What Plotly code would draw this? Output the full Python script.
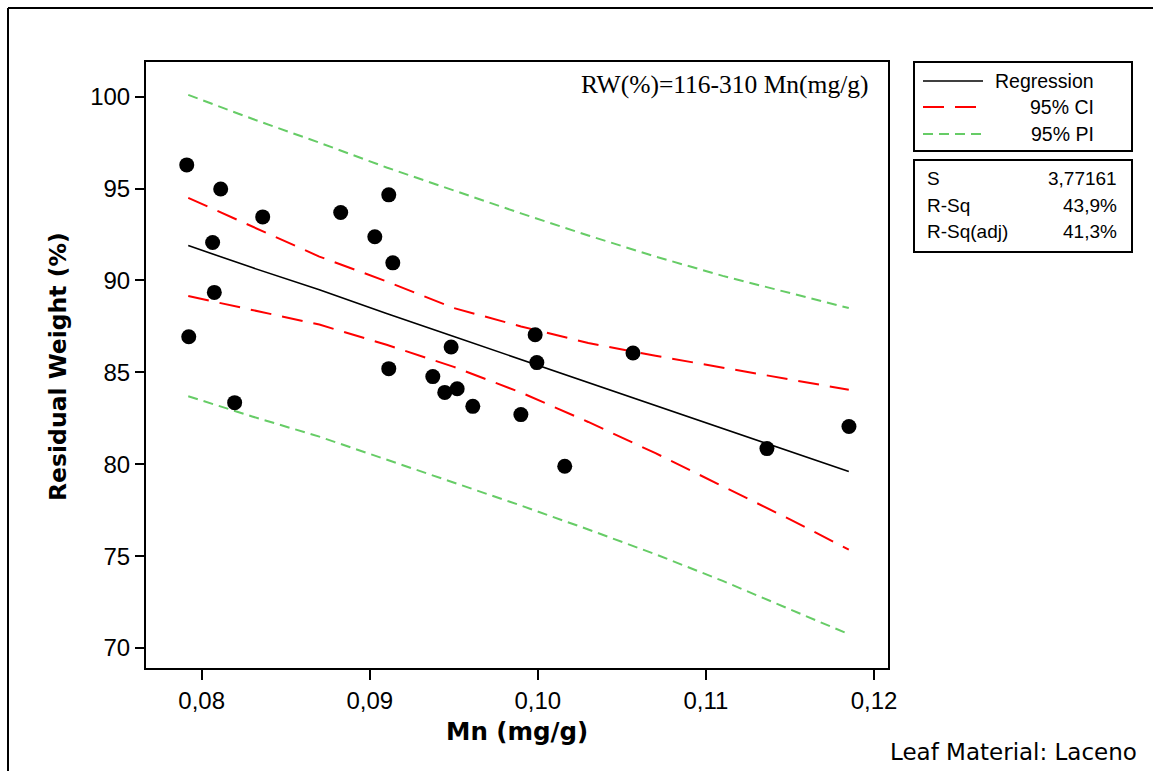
import plotly.graph_objects as go

# ---- data ----
mn = [0.07911, 0.07923, 0.08113, 0.08065, 0.08075, 0.08196, 0.08363, 0.08827,
      0.09030, 0.09113, 0.09137, 0.09113, 0.09375, 0.09446, 0.09484, 0.09520,
      0.09613, 0.09899, 0.09984, 0.09994, 0.10160, 0.10566, 0.11363, 0.11851]
rw = [96.29, 86.94, 94.98, 92.07, 89.35, 83.35, 93.46, 93.70,
      92.38, 94.66, 90.96, 85.20, 84.77, 83.91, 86.38, 84.11,
      83.15, 82.70, 87.05, 85.53, 79.89, 86.05, 80.85, 82.05]

grid_x = [0.0792, 0.083, 0.087, 0.091, 0.095, 0.099, 0.103, 0.107, 0.111, 0.115, 0.1185]
fit    = [91.9, 90.7, 89.5, 88.2, 86.95, 85.7, 84.45, 83.2, 81.95, 80.7, 79.6]
ci_up  = [94.5, 92.95, 91.3, 89.95, 88.5, 87.5, 86.6, 85.9, 85.25, 84.6, 84.05]
ci_lo  = [89.15, 88.4, 87.6, 86.5, 85.3, 83.9, 82.3, 80.6, 78.8, 77.0, 75.35]
pi_up  = [100.1, 98.8, 97.5, 96.15, 94.9, 93.65, 92.45, 91.3, 90.25, 89.3, 88.5]
pi_lo  = [83.7, 82.6, 81.5, 80.25, 79.0, 77.75, 76.45, 75.1, 73.65, 72.1, 70.75]

x_ticks = [0.08, 0.09, 0.10, 0.11, 0.12]
y_ticks = [70, 75, 80, 85, 90, 95, 100]

legend_labels = ["Regression", "95% CI", "95% PI"]
stat_names = ["S", "R-Sq", "R-Sq(adj)"]
stat_values = ["3,77161", "43,9%", "41,3%"]
equation = "RW(%)=116-310 Mn(mg/g)"
x_title = "Mn (mg/g)"
y_title = "Residual Weight (%)"
footer = "Leaf Material: Laceno"

# ---- styling / layout ----
W, H = 1153, 771
L, R, T, B = 146, 888, 62, 668
RED = "#ff0000"
GREEN = "#66cc66"
SANS = "Liberation Sans, Arial, sans-serif"
BOLD = "DejaVu Sans, Verdana, sans-serif"


def px(x):
    return (x - L) / (R - L)


def py(y):
    return (B - y) / (B - T)


fig = go.Figure()
fig.add_trace(go.Scatter(x=grid_x, y=pi_up, mode="lines",
                         line=dict(color=GREEN, width=2, dash="10px,6px"), hoverinfo="skip"))
fig.add_trace(go.Scatter(x=grid_x, y=pi_lo, mode="lines",
                         line=dict(color=GREEN, width=2, dash="10px,6px"), hoverinfo="skip"))
fig.add_trace(go.Scatter(x=grid_x, y=ci_up, mode="lines",
                         line=dict(color=RED, width=2, dash="21px,11px"), hoverinfo="skip"))
fig.add_trace(go.Scatter(x=grid_x, y=ci_lo, mode="lines",
                         line=dict(color=RED, width=2, dash="21px,11px"), hoverinfo="skip"))
fig.add_trace(go.Scatter(x=grid_x, y=fit, mode="lines",
                         line=dict(color="black", width=1.6)))
fig.add_trace(go.Scatter(x=mn, y=rw, mode="markers",
                         marker=dict(color="black", size=15, symbol="circle")))

shapes = []
annotations = []

# outer frame (top and left)
shapes.append(dict(type="line", xref="paper", yref="paper",
                   x0=px(8), y0=py(771), x1=px(8), y1=py(8),
                   line=dict(color="black", width=2)))
shapes.append(dict(type="line", xref="paper", yref="paper",
                   x0=px(8), y0=py(8), x1=px(1153), y1=py(8),
                   line=dict(color="black", width=2)))

# legend box
shapes.append(dict(type="rect", xref="paper", yref="paper",
                   x0=px(914), y0=py(151), x1=px(1132), y1=py(62),
                   line=dict(color="black", width=2), fillcolor="white"))
leg_styles = [dict(color="black", width=1.6, dash="solid"),
              dict(color=RED, width=2, dash="21px,11px"),
              dict(color=GREEN, width=2, dash="10px,6px")]
leg_y = [81, 107, 134]
for lab, st, yy in zip(legend_labels, leg_styles, leg_y):
    shapes.append(dict(type="line", xref="paper", yref="paper",
                       x0=px(923), y0=py(yy), x1=px(983), y1=py(yy), line=st))
    annotations.append(dict(xref="paper", yref="paper", x=px(1096), y=py(yy),
                            text=lab, showarrow=False, xanchor="right", yanchor="middle",
                            font=dict(family=SANS, size=19.5, color="black")))

# stats box
shapes.append(dict(type="rect", xref="paper", yref="paper",
                   x0=px(914), y0=py(252), x1=px(1132), y1=py(160),
                   line=dict(color="black", width=2), fillcolor="white"))
stat_y = [179, 205, 231]
for nm, val, yy in zip(stat_names, stat_values, stat_y):
    annotations.append(dict(xref="paper", yref="paper", x=px(925), y=py(yy),
                            text=nm, showarrow=False, xanchor="left", yanchor="middle",
                            font=dict(family=SANS, size=19, color="black")))
    annotations.append(dict(xref="paper", yref="paper", x=px(1119), y=py(yy),
                            text=val, showarrow=False, xanchor="right", yanchor="middle",
                            font=dict(family=SANS, size=19, color="black")))

# equation
annotations.append(dict(xref="paper", yref="paper", x=px(871), y=py(84),
                        text=equation, showarrow=False, xanchor="right", yanchor="middle",
                        font=dict(family="Liberation Serif, Times New Roman, serif", size=25.5, color="black")))
# axis titles
annotations.append(dict(xref="paper", yref="paper", x=px(517), y=py(731),
                        text="<b>" + x_title + "</b>", showarrow=False,
                        xanchor="center", yanchor="middle",
                        font=dict(family=BOLD, size=24.5, color="black")))
annotations.append(dict(xref="paper", yref="paper", x=px(58), y=py(367),
                        text="<b>" + y_title + "</b>", showarrow=False, textangle=-90,
                        xanchor="center", yanchor="middle",
                        font=dict(family=BOLD, size=23.5, color="black")))
# footer
annotations.append(dict(xref="paper", yref="paper", x=px(1139), y=py(752),
                        text=footer, showarrow=False, xanchor="right", yanchor="middle",
                        font=dict(family="DejaVu Sans, sans-serif", size=23, color="black")))

fig.update_layout(
    width=W, height=H,
    margin=dict(l=L, r=W - R, t=T, b=H - B, pad=0),
    paper_bgcolor="white", plot_bgcolor="white",
    showlegend=False,
    separators=",.",
    shapes=shapes, annotations=annotations,
    font=dict(family=SANS, color="black"),
)
fig.update_xaxes(range=[0.076686, 0.120833], tickvals=x_ticks, tickformat=".2f",
                 showgrid=False, zeroline=False, showline=True, mirror=True,
                 linecolor="black", linewidth=2, ticks="outside", ticklen=10,
                 tickwidth=2, tickcolor="black",
                 tickfont=dict(family=SANS, size=24, color="black"))
fig.update_yaxes(range=[68.91, 101.89], tickvals=y_ticks,
                 showgrid=False, zeroline=False, showline=True, mirror=True,
                 linecolor="black", linewidth=2, ticks="outside", ticklen=9,
                 tickwidth=2, tickcolor="black",
                 tickfont=dict(family=SANS, size=24, color="black"))

fig.write_html("out.html")
